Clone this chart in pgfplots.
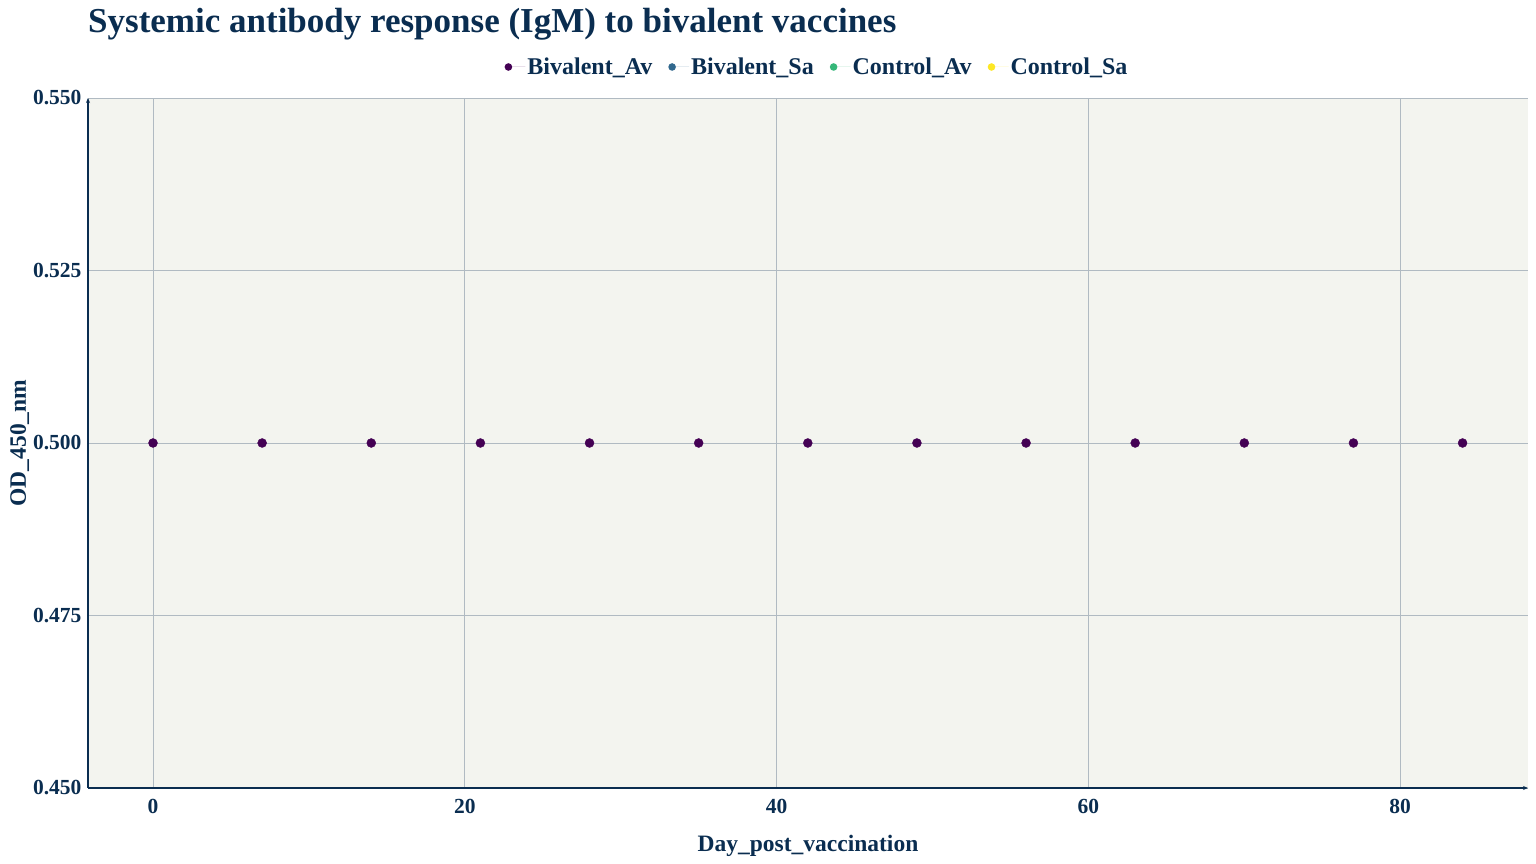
\documentclass[border=0pt]{standalone}
\usepackage{pgfplots}
\pgfplotsset{compat=1.18}
\usetikzlibrary{arrows.meta}
\usepackage{fontspec}
\setmainfont{Liberation Serif}
\definecolor{txt}{RGB}{10,45,80}
\definecolor{bg}{RGB}{243,244,239}
\definecolor{grd}{RGB}{176,186,194}
\definecolor{vA}{HTML}{440154}
\definecolor{vB}{HTML}{31688E}
\definecolor{vC}{HTML}{35B779}
\definecolor{vD}{HTML}{FDE725}
\begin{document}
\begin{tikzpicture}[x=1pt,y=1pt]
\path[use as bounding box] (0,0) rectangle (1536,864);
\node[anchor=base west, text=txt, font=\fontsize{35}{40}\selectfont\bfseries, inner sep=0pt] at (88,831) {Systemic antibody response (IgM) to bivalent vaccines};
\begin{axis}[
  at={(88pt,76pt)}, anchor=south west,
  scale only axis, width=1440pt, height=690pt,
  xmin=-4.17, xmax=88.2, ymin=0.45, ymax=0.55,
  xtick={0,20,40,60,80},
  ytick={0.45,0.475,0.5,0.525,0.55},
  axis lines=left,
  axis line style={draw=txt, line width=1.2pt, -{Stealth[length=5pt,width=4pt]}},
  axis background/.style={fill=bg},
  grid=major,
  major grid style={draw=grd, line width=0.9pt},
  major tick length=0pt,
  /pgf/number format/assume math mode=true,
  ticklabel style={font=\fontsize{21.5}{24}\selectfont\bfseries, text=txt},
  yticklabel style={/pgf/number format/fixed, /pgf/number format/fixed zerofill, /pgf/number format/precision=3, xshift=-3pt},
  xticklabel style={yshift=-8pt},
  xlabel={Day\_post\_vaccination},
  ylabel={OD\_450\_nm},
  label style={font=\fontsize{23.5}{26}\selectfont\bfseries, text=txt},
  xlabel style={at={(axis description cs:0.5,0)}, anchor=base, yshift=-64pt, inner sep=0pt},
  ylabel style={at={(axis description cs:-0.04306,0.5)}, anchor=base, inner sep=0pt},
  clip=false,
  legend columns=4,
  legend style={at={(axis description cs:0.5,1)}, anchor=center, xshift=9pt, yshift=31pt,
    draw=none, fill=none, font=\fontsize{24}{26}\selectfont\bfseries, text=txt,
    /tikz/every even column/.append style={column sep=14pt}},
  legend image code/.code={\fill[#1] (0pt,0pt) circle (3.8pt); \path (-3.8pt,0pt) -- (17pt,0pt);},
]
\addplot[only marks, mark=*, mark size=4.5pt, vA, draw=none, fill=vA] coordinates {
(0,0.5) (7,0.5) (14,0.5) (21,0.5) (28,0.5) (35,0.5) (42,0.5) (49,0.5) (56,0.5) (63,0.5) (70,0.5) (77,0.5) (84,0.5)};
\addlegendentry{Bivalent\_Av}
\addlegendimage{fill=vB, draw=none}
\addlegendentry{Bivalent\_Sa}
\addlegendimage{fill=vC, draw=none}
\addlegendentry{Control\_Av}
\addlegendimage{fill=vD, draw=none}
\addlegendentry{Control\_Sa}
\end{axis}
\end{tikzpicture}
\end{document}
